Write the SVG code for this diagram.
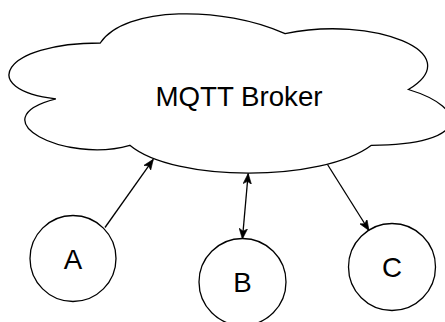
<svg xmlns="http://www.w3.org/2000/svg" width="445" height="322" viewBox="0 0 445 322">
  <style>
    .shape { fill: #ffffff; stroke: #000000; stroke-width: 1.3; }
    .label { font-family: "Liberation Sans", Arial, Helvetica, sans-serif; font-size: 27.7px; fill: #000000; text-anchor: middle; }
    .edge { fill: none; stroke: #000000; stroke-width: 1.3; }
  </style>
  <defs>
    <!-- classic notched arrowhead, tip at the path end -->
    <marker id="arrowEnd" markerUnits="userSpaceOnUse" markerWidth="11" markerHeight="9" viewBox="0 0 11 9" refX="10.5" refY="4.5" orient="auto">
      <path d="M10.5,4.5 L0,0.3 L2.6,4.5 L0,8.7 Z" fill="#000000" stroke="#000000" stroke-width="0.6" stroke-linejoin="miter"/>
    </marker>
    <marker id="arrowStart" markerUnits="userSpaceOnUse" markerWidth="11" markerHeight="9" viewBox="0 0 11 9" refX="0.5" refY="4.5" orient="auto">
      <path d="M0.5,4.5 L11,0.3 L8.4,4.5 L11,8.7 Z" fill="#000000" stroke="#000000" stroke-width="0.6" stroke-linejoin="miter"/>
    </marker>
  </defs>

  <rect width="445" height="322" fill="#ffffff"/>

  <g id="broker">
    <path class="shape" d="M100.25,43 C1.65,43 -23,89.5 55.88,98.8 C-23,119.26 65.74,163.9 129.83,145.3 C174.2,182.5 322.1,182.5 371.4,145.3 C470,145.3 470,108.1 408.4,89.5 C470,52.3 371.4,15.1 285.1,33.7 C223.5,5.8 124.9,5.8 100.25,43 Z"/>
    <text class="label" x="239" y="106">MQTT Broker</text>
  </g>

  <g id="client-a">
    <circle class="shape" cx="73" cy="258.5" r="43"/>
    <text class="label" x="73" y="268.5">A</text>
  </g>

  <g id="client-b">
    <circle class="shape" cx="242.5" cy="282" r="43.5"/>
    <text class="label" x="242.5" y="291.5">B</text>
  </g>

  <g id="client-c">
    <circle class="shape" cx="392" cy="267" r="43.5"/>
    <text class="label" x="392" y="277">C</text>
  </g>

  <g id="connectors">
    <!-- A publishes to the broker -->
    <line class="edge" x1="105" y1="227.5" x2="153.3" y2="159.3" marker-end="url(#arrowEnd)"/>
    <!-- B exchanges with the broker in both directions -->
    <line class="edge" x1="248.2" y1="173.5" x2="242.4" y2="239" marker-start="url(#arrowStart)" marker-end="url(#arrowEnd)"/>
    <!-- broker delivers to C -->
    <line class="edge" x1="327.5" y1="164.5" x2="369" y2="230.5" marker-end="url(#arrowEnd)"/>
  </g>
</svg>
